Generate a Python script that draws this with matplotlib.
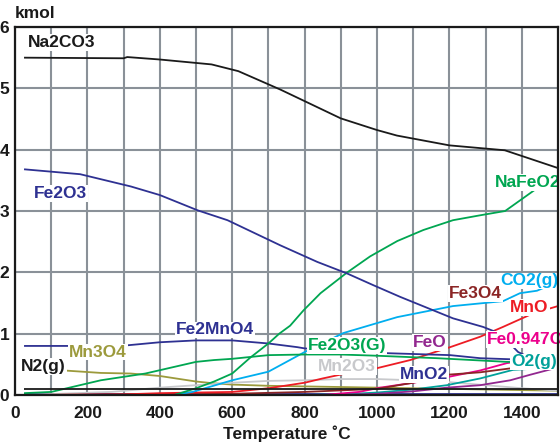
import matplotlib
matplotlib.use("Agg")
import matplotlib.pyplot as plt
import numpy as np

plt.rcParams['font.family'] = ['Liberation Sans', 'DejaVu Sans']

# Equilibrium amounts (kmol) versus temperature (deg C)
T_na2co3 = [25, 300, 310, 400, 543, 617, 733, 797, 900, 1000, 1055, 1200, 1353, 1500]
na2co3 = [5.50, 5.49, 5.51, 5.47, 5.39, 5.28, 4.98, 4.80, 4.51, 4.32, 4.23, 4.07, 3.99, 3.70]

T_fe2o3 = [25, 180, 320, 400, 505, 587, 733, 835, 918, 990, 1064, 1210, 1293, 1340, 1390, 1440, 1500]
fe2o3 = [3.68, 3.60, 3.40, 3.26, 3.01, 2.85, 2.44, 2.17, 1.98, 1.79, 1.60, 1.25, 1.11, 1.00, 0.70, 0.56, 0.47]

T_nafeo2 = [25, 440, 500, 550, 600, 650, 700, 730, 760, 797, 844, 918, 981, 1056, 1128, 1210, 1285, 1354, 1442, 1500]
nafeo2 = [0.0, 0.0, 0.11, 0.22, 0.35, 0.61, 0.84, 1.00, 1.13, 1.38, 1.66, 2.00, 2.26, 2.51, 2.69, 2.85, 2.93, 3.00, 3.37, 3.55]

T_fe2mno4 = [25, 292, 400, 500, 600, 700, 780, 800, 900, 1037, 1202, 1285, 1431, 1500]
fe2mno4 = [0.80, 0.80, 0.86, 0.89, 0.89, 0.84, 0.78, 0.76, 0.71, 0.68, 0.65, 0.60, 0.57, 0.48]

T_fe2o3g = [25, 100, 237, 360, 500, 550, 600, 700, 800, 900, 1000, 1166, 1359, 1500]
fe2o3g = [0.03, 0.05, 0.24, 0.35, 0.54, 0.57, 0.59, 0.65, 0.66, 0.66, 0.64, 0.60, 0.54, 0.52]

T_co2 = [25, 440, 490, 600, 700, 750, 800, 907, 1056, 1210, 1348, 1395, 1442, 1500]
co2 = [0.0, 0.0, 0.05, 0.24, 0.38, 0.54, 0.70, 1.01, 1.27, 1.45, 1.53, 1.66, 1.70, 1.85]

T_fe3o4 = [25, 600, 800, 1000, 1100, 1193, 1285, 1376, 1470, 1500]
fe3o4 = [0.0, 0.02, 0.05, 0.10, 0.20, 0.33, 0.37, 0.44, 0.46, 0.45]

T_mno = [25, 300, 400, 500, 600, 700, 800, 850, 921, 981, 1092, 1202, 1285, 1348, 1431, 1500]
mno = [0.0, 0.01, 0.03, 0.04, 0.05, 0.11, 0.20, 0.27, 0.36, 0.41, 0.57, 0.78, 0.95, 1.11, 1.33, 1.45]

T_feo = [25, 900, 1000, 1100, 1193, 1285, 1368, 1423, 1500]
feo = [0.0, 0.0, 0.02, 0.06, 0.12, 0.16, 0.24, 0.33, 0.45]

T_fe0947o = [25, 850, 950, 1009, 1100, 1193, 1285, 1359, 1420, 1500]
fe0947o = [0.0, 0.0, 0.05, 0.12, 0.20, 0.29, 0.40, 0.52, 0.57, 0.52]

T_o2 = [25, 800, 900, 1000, 1100, 1193, 1285, 1376, 1500]
o2 = [0.0, 0.0, 0.01, 0.04, 0.09, 0.16, 0.27, 0.41, 0.45]

T_mn2o3 = [25, 265, 400, 500, 600, 700, 800, 900, 1000, 1100, 1200, 1300, 1400, 1500]
mn2o3 = [0.0, 0.05, 0.12, 0.16, 0.20, 0.23, 0.24, 0.26, 0.26, 0.24, 0.21, 0.16, 0.11, 0.07]

T_mn3o4 = [25, 135, 237, 320, 400, 500, 550, 600, 700, 800, 1000, 1200, 1400, 1500]
mn3o4 = [0.41, 0.40, 0.36, 0.35, 0.31, 0.22, 0.19, 0.17, 0.15, 0.14, 0.12, 0.10, 0.08, 0.07]

T_mno2 = [25, 1500]
mno2 = [0.02, 0.02]

T_n2 = [25, 1500]
n2 = [0.10, 0.10]

T_base = [25, 1500]
base = [0.0, 0.0]

series = [
    (T_mno2, mno2, '#2e3192'),
    (T_mn3o4, mn3o4, '#9c9a3c'),
    (T_mn2o3, mn2o3, '#c8c9cc'),
    (T_o2, o2, '#00a19a'),
    (T_fe0947o, fe0947o, '#ec008c'),
    (T_feo, feo, '#92278f'),
    (T_fe3o4, fe3o4, '#8b2525'),
    (T_mno, mno, '#ed1c24'),
    (T_co2, co2, '#00aeef'),
    (T_fe2o3g, fe2o3g, '#00a651'),
    (T_fe2mno4, fe2mno4, '#2e3192'),
    (T_nafeo2, nafeo2, '#00a651'),
    (T_fe2o3, fe2o3, '#2e3192'),
    (T_na2co3, na2co3, '#1a1a1a'),
    (T_n2, n2, '#1a1a1a'),
    (T_base, base, '#29b6e6'),
]

# Curve labels: text, colour, anchor (left, centre) in data units
labels = [
    ('Na2CO3', '#1a1a1a', 36, 5.75),
    ('Fe2O3', '#2e3192', 52, 3.29),
    ('NaFeO2', '#00a651', 1326, 3.47),
    ('Fe3O4', '#8b2525', 1199, 1.66),
    ('CO2(g)', '#00aeef', 1340, 1.86),
    ('MnO', '#ed1c24', 1368, 1.43),
    ('Fe2MnO4', '#2e3192', 444, 1.06),
    ('Fe2O3(G)', '#00a651', 808, 0.81),
    ('FeO', '#92278f', 1100, 0.86),
    ('Fe0.947O', '#ec008c', 1304, 0.90),
    ('O2(g)', '#00a19a', 1370, 0.54),
    ('N2(g)', '#1a1a1a', 17, 0.46),
    ('Mn3O4', '#9c9a3c', 149, 0.70),
    ('Mn2O3', '#c8c9cc', 838, 0.46),
    ('MnO2', '#2e3192', 1064, 0.33),
]

FS = 12.5

fig = plt.figure(figsize=(5.6, 4.46), dpi=100)
ax = fig.add_axes([15 / 560, 51 / 446, 543 / 560, 368 / 446])

for T, v, c in series:
    ax.plot(T, v, color=c, lw=1.3, zorder=3, solid_capstyle='butt')

for txt, c, x, y in labels:
    ax.text(x, y, txt, color=c, fontsize=FS, fontweight='bold', ha='left', va='center',
            zorder=5, clip_on=False,
            bbox=dict(boxstyle='square,pad=0.05', fc='white', ec='none'))

ax.set_xlim(0, 1500)
ax.set_ylim(0, 6)
ax.set_xticks(np.arange(0, 1401, 200))
ax.set_xticks(np.arange(100, 1500, 200), minor=True)
ax.set_yticks(np.arange(0, 7, 1))
ax.grid(True, which='both', color='#8a9198', lw=1.5, zorder=1)
ax.set_axisbelow(True)
ax.tick_params(which='both', length=0, labelsize=FS)
ax.tick_params(axis='x', pad=8)
ax.tick_params(axis='y', pad=4)
for lab in ax.get_xticklabels() + ax.get_yticklabels():
    lab.set_fontweight('bold')
    lab.set_color('#1a1a1a')
for s in ax.spines.values():
    s.set_color('#1a1a1a')
    s.set_linewidth(1.6)
    s.set_zorder(6)

ax.set_xlabel('Temperature \u02daC', fontsize=FS, fontweight='bold', color='#1a1a1a', labelpad=3)
fig.text(15 / 560, 1 - 14 / 446, 'kmol', fontsize=FS, fontweight='bold', color='#1a1a1a',
         ha='left', va='center')

fig.savefig('out.png', dpi=100)
